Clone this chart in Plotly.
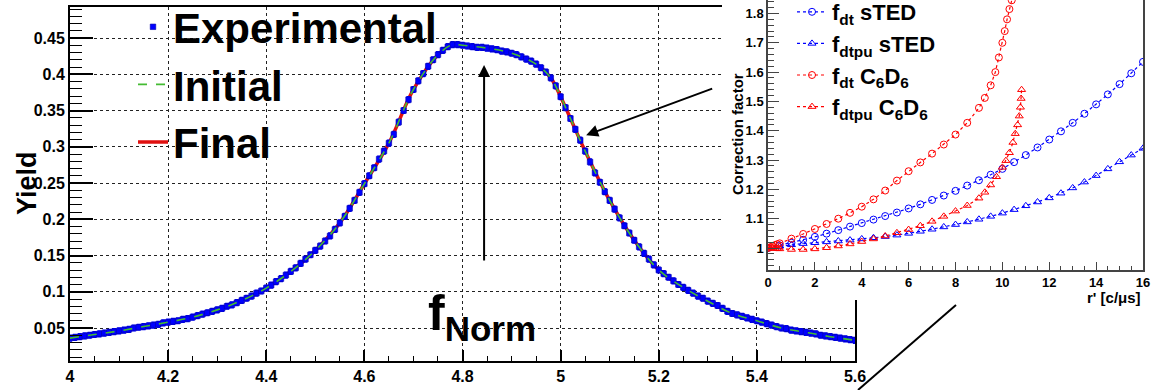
import plotly.graph_objects as go

# ---------------- main plot data ----------------
energy = [4.00, 4.01, 4.02, 4.03, 4.04, 4.05, 4.06, 4.07, 4.08, 4.09,
          4.10, 4.11, 4.12, 4.13, 4.14, 4.15, 4.16, 4.17, 4.18, 4.19,
          4.20, 4.21, 4.22, 4.23, 4.24, 4.25, 4.26, 4.27, 4.28, 4.29,
          4.30, 4.31, 4.32, 4.33, 4.34, 4.35, 4.36, 4.37, 4.38, 4.39,
          4.40, 4.41, 4.42, 4.43, 4.44, 4.45, 4.46, 4.47, 4.48, 4.49,
          4.50, 4.51, 4.52, 4.53, 4.54, 4.55, 4.56, 4.57, 4.58, 4.59,
          4.60, 4.61, 4.62, 4.63, 4.64, 4.65, 4.66, 4.67, 4.68, 4.69,
          4.70, 4.71, 4.72, 4.73, 4.74, 4.75, 4.76, 4.77, 4.78, 4.79,
          4.80, 4.81, 4.82, 4.83, 4.84, 4.85, 4.86, 4.87, 4.88, 4.89,
          4.90, 4.91, 4.92, 4.93, 4.94, 4.95, 4.96, 4.97, 4.98, 4.99,
          5.00, 5.01, 5.02, 5.03, 5.04, 5.05, 5.06, 5.07, 5.08, 5.09,
          5.10, 5.11, 5.12, 5.13, 5.14, 5.15, 5.16, 5.17, 5.18, 5.19,
          5.20, 5.21, 5.22, 5.23, 5.24, 5.25, 5.26, 5.27, 5.28, 5.29,
          5.30, 5.31, 5.32, 5.33, 5.34, 5.35, 5.36, 5.37, 5.38, 5.39,
          5.40, 5.41, 5.42, 5.43, 5.44, 5.45, 5.46, 5.47, 5.48, 5.49,
          5.50, 5.51, 5.52, 5.53, 5.54, 5.55, 5.56, 5.57, 5.58, 5.59,
          5.60]
yield_exp = [0.036, 0.037, 0.038, 0.039, 0.040, 0.041, 0.042, 0.043, 0.044, 0.045,
             0.046, 0.047, 0.048, 0.050, 0.051, 0.052, 0.053, 0.054, 0.055, 0.057,
             0.058, 0.059, 0.060, 0.062, 0.063, 0.065, 0.067, 0.069, 0.071, 0.073,
             0.075, 0.077, 0.080, 0.082, 0.085, 0.088, 0.091, 0.094, 0.098, 0.101,
             0.105, 0.109, 0.114, 0.118, 0.123, 0.128, 0.133, 0.139, 0.145, 0.151,
             0.157, 0.163, 0.170, 0.177, 0.186, 0.195, 0.204, 0.215, 0.226, 0.237,
             0.249, 0.260, 0.271, 0.283, 0.294, 0.305, 0.317, 0.334, 0.350, 0.365,
             0.379, 0.391, 0.401, 0.411, 0.420, 0.427, 0.433, 0.438, 0.441, 0.441,
             0.440, 0.439, 0.438, 0.437, 0.437, 0.436, 0.435, 0.434, 0.432, 0.431,
             0.429, 0.427, 0.424, 0.421, 0.418, 0.414, 0.409, 0.403, 0.395, 0.384,
             0.369, 0.354, 0.339, 0.324, 0.309, 0.294, 0.279, 0.264, 0.251, 0.238,
             0.226, 0.214, 0.202, 0.191, 0.181, 0.171, 0.162, 0.153, 0.145, 0.137,
             0.130, 0.125, 0.120, 0.115, 0.110, 0.106, 0.102, 0.098, 0.094, 0.091,
             0.087, 0.084, 0.081, 0.077, 0.073, 0.070, 0.068, 0.066, 0.064, 0.062,
             0.060, 0.058, 0.056, 0.054, 0.052, 0.050, 0.049, 0.047, 0.046, 0.045,
             0.044, 0.043, 0.042, 0.040, 0.039, 0.038, 0.037, 0.036, 0.035, 0.034,
             0.033]

fit_energy = [4.00, 4.05, 4.10, 4.15, 4.20, 4.25, 4.30, 4.35, 4.40, 4.45, 4.50,
              4.55, 4.60, 4.65, 4.70, 4.75, 4.78, 4.80, 4.85, 4.90, 4.95, 4.98,
              5.00, 5.02, 5.05, 5.10, 5.15, 5.20, 5.25, 5.30, 5.35, 5.40, 5.45,
              5.50, 5.55, 5.60]
yield_initial = [0.036, 0.041, 0.046, 0.052, 0.058, 0.065, 0.075, 0.088, 0.105, 0.128, 0.157,
                 0.195, 0.249, 0.305, 0.379, 0.427, 0.441, 0.440, 0.436, 0.429, 0.414, 0.395,
                 0.369, 0.339, 0.294, 0.226, 0.171, 0.130, 0.106, 0.087, 0.070, 0.060, 0.050,
                 0.044, 0.038, 0.033]
yield_final = [0.036, 0.041, 0.046, 0.052, 0.058, 0.065, 0.075, 0.088, 0.105, 0.128, 0.157,
               0.195, 0.249, 0.305, 0.379, 0.427, 0.441, 0.440, 0.436, 0.429, 0.414, 0.395,
               0.369, 0.339, 0.294, 0.226, 0.171, 0.130, 0.106, 0.087, 0.070, 0.060, 0.050,
               0.044, 0.038, 0.033]

# ---------------- inset data ----------------
r_sted = [0.0, 0.5, 1.0, 1.5, 2.0, 2.5, 3.0, 3.5, 4.0, 4.5, 5.0, 5.5, 6.0, 6.5, 7.0, 7.5,
          8.0, 8.5, 9.0, 9.5, 10.0, 10.5, 11.0, 11.5, 12.0, 12.5, 13.0, 13.5, 14.0,
          14.5, 15.0, 15.5, 16.0]
fdt_sted = [1.000, 1.009, 1.018, 1.028, 1.038, 1.049, 1.061, 1.073, 1.085, 1.097, 1.109,
            1.121, 1.135, 1.149, 1.164, 1.179, 1.195, 1.213, 1.231, 1.250, 1.270, 1.293,
            1.317, 1.343, 1.370, 1.398, 1.427, 1.458, 1.490, 1.524, 1.559, 1.596, 1.635]
fdtpu_sted = [1.000, 1.006, 1.011, 1.015, 1.018, 1.021, 1.024, 1.027, 1.031, 1.035, 1.039,
              1.044, 1.050, 1.057, 1.064, 1.072, 1.080, 1.089, 1.098, 1.108, 1.119, 1.131,
              1.144, 1.157, 1.171, 1.187, 1.205, 1.225, 1.247, 1.270, 1.294, 1.317, 1.340]

r_c6d6_dt = [0.0, 0.1, 0.2, 0.3, 0.4, 0.5, 1.0, 1.5, 2.0, 2.5, 3.0, 3.5, 4.0, 4.5, 5.0,
             5.5, 6.0, 6.5, 7.0, 7.5, 8.0, 8.5, 9.0, 9.25, 9.5, 9.7, 9.85, 10.0, 10.1,
             10.2, 10.3, 10.4]
fdt_c6d6 = [1.000, 1.003, 1.006, 1.010, 1.013, 1.016, 1.032, 1.048, 1.065, 1.082, 1.100,
            1.120, 1.141, 1.166, 1.196, 1.230, 1.262, 1.292, 1.322, 1.353, 1.387, 1.427,
            1.478, 1.512, 1.555, 1.600, 1.650, 1.700, 1.740, 1.780, 1.815, 1.845]

r_c6d6_dtpu = [0.0, 0.1, 0.2, 0.3, 0.4, 0.5, 1.0, 1.5, 2.0, 2.5, 3.0, 3.5, 4.0, 4.5, 5.0,
               5.5, 6.0, 6.5, 7.0, 7.5, 8.0, 8.5, 9.0, 9.25, 9.5, 9.75, 10.0, 10.15,
               10.3, 10.45, 10.55, 10.65, 10.72, 10.77, 10.8, 10.82]
fdtpu_c6d6 = [1.000, 1.000, 0.999, 0.999, 0.998, 0.997, 0.995, 0.995, 0.997, 1.001, 1.007,
              1.014, 1.022, 1.031, 1.041, 1.052, 1.063, 1.076, 1.091, 1.108, 1.126, 1.145,
              1.170, 1.190, 1.215, 1.243, 1.275, 1.298, 1.325, 1.360, 1.390, 1.420, 1.450,
              1.480, 1.510, 1.540]

FONT = "Liberation Sans, Arial, Helvetica, sans-serif"
BLUE = "#0000ff"
RED = "#ff0000"
GREEN = "#44bb33"
W, H = 1154, 390

fig = go.Figure()

# main plot traces
fig.add_trace(go.Scatter(x=fit_energy, y=yield_final, mode="lines", name="Final",
                         line=dict(color="#e01010", width=3.5, shape="spline"),
                         legendrank=3, xaxis="x", yaxis="y"))
fig.add_trace(go.Scatter(x=energy, y=yield_exp, mode="markers", name="Experimental",
                         marker=dict(symbol="square", size=5.5, color=BLUE,
                                     line=dict(width=0.6, color="#0000aa")),
                         error_y=dict(type="constant", value=0.004, thickness=1.4,
                                      width=2, color=BLUE),
                         legendrank=1, xaxis="x", yaxis="y"))
fig.add_trace(go.Scatter(x=fit_energy, y=yield_initial, mode="lines", name="Initial",
                         line=dict(color=GREEN, width=1.6, dash="dash", shape="spline"),
                         legendrank=2, xaxis="x", yaxis="y"))

# white pad for the inset (empty subplot whose background hides the main plot)
fig.add_trace(go.Scatter(x=[], y=[], xaxis="x2", yaxis="y2", showlegend=False,
                         hoverinfo="skip"))

# inset traces
inset_specs = [
    (r_sted, fdt_sted, "f<sub>dt</sub> sTED", BLUE, "circle-open"),
    (r_sted, fdtpu_sted, "f<sub>dtpu</sub> sTED", BLUE, "triangle-up-open"),
    (r_c6d6_dt, fdt_c6d6, "f<sub>dt</sub> C<sub>6</sub>D<sub>6</sub>", RED, "circle-open"),
    (r_c6d6_dtpu, fdtpu_c6d6, "f<sub>dtpu</sub> C<sub>6</sub>D<sub>6</sub>", RED,
     "triangle-up-open"),
]
for xs, ys, nm, col, sym in inset_specs:
    fig.add_trace(go.Scatter(x=xs, y=ys, mode="lines+markers", name=nm,
                             line=dict(color=col, width=1.2, dash="dot"),
                             marker=dict(symbol=sym, size=7, color=col,
                                         line=dict(width=1, color=col)),
                             legend="legend2", xaxis="x3", yaxis="y3"))

tickfont_main = dict(family=FONT, size=16, color="black", weight="bold")
tickfont_inset = dict(family=FONT, size=13, color="black", weight="bold")

fig.update_layout(
    width=W, height=H, autosize=False,
    margin=dict(l=0, r=0, t=0, b=0, autoexpand=False),
    paper_bgcolor="white", plot_bgcolor="white",
    font=dict(family=FONT, color="black"),
    xaxis=dict(domain=[70 / W, 855 / W], range=[4, 5.6], anchor="y",
               dtick=0.2, tick0=4, ticks="inside", ticklen=11, tickwidth=1.5,
               tickcolor="black", minor=dict(dtick=0.05, ticks="inside", ticklen=5.5,
                                             tickwidth=1.2, tickcolor="black",
                                             showgrid=False),
               showline=True, linecolor="black", linewidth=2, mirror=True,
               showgrid=True, gridcolor="#222222", griddash="dot", gridwidth=1,
               zeroline=False, tickfont=tickfont_main),
    yaxis=dict(domain=[(H - 361) / H, (H - 7) / H], range=[0.00448, 0.49276],
               anchor="x", dtick=0.05, tick0=0, ticks="inside", ticklen=23,
               tickwidth=1.5, tickcolor="black",
               minor=dict(dtick=0.01, ticks="inside", ticklen=12, tickwidth=1.2,
                          tickcolor="black", showgrid=False),
               showline=True, linecolor="black", linewidth=2, mirror=True,
               showgrid=True, gridcolor="#222222", griddash="dot", gridwidth=1,
               zeroline=False, tickfont=tickfont_main),
    xaxis2=dict(domain=[722 / W, 1.0], range=[0, 1], anchor="y2", showgrid=False,
                zeroline=False, showticklabels=False, ticks="", showline=False),
    yaxis2=dict(domain=[(H - 300) / H, 1.0], range=[0, 1], anchor="x2", showgrid=False,
                zeroline=False, showticklabels=False, ticks="", showline=False),
    xaxis3=dict(domain=[768 / W, 1143 / W], range=[0, 16], anchor="y3",
                dtick=2, tick0=0, ticks="inside", ticklen=8, tickwidth=1.2,
                tickcolor="#444444",
                minor=dict(dtick=0.5, ticks="inside", ticklen=4, tickwidth=1,
                           tickcolor="#444444"),
                showline=True, linecolor="#444444", linewidth=1.5, mirror=False,
                showgrid=False, zeroline=False, tickfont=tickfont_inset),
    yaxis3=dict(domain=[(H - 270) / H, 1.0], range=[0.925, 1.846], anchor="x3",
                dtick=0.1, tick0=1, ticks="inside", ticklen=11, tickwidth=1.2,
                tickcolor="#444444",
                minor=dict(dtick=0.02, ticks="inside", ticklen=6, tickwidth=1,
                           tickcolor="#444444"),
                showline=True, linecolor="#444444", linewidth=1.5, mirror=True,
                showgrid=False, zeroline=False, tickfont=tickfont_inset),
    legend=dict(x=133 / W, y=1.0 + 7 / H, xanchor="left", yanchor="top",
                bgcolor="rgba(0,0,0,0)", borderwidth=0,
                font=dict(family=FONT, size=42, color="black", weight="bold"),
                traceorder="normal"),
    legend2=dict(x=792 / W, y=1.0 + 9 / H, xanchor="left", yanchor="top",
                 bgcolor="rgba(0,0,0,0)", borderwidth=0,
                 font=dict(family=FONT, size=22, color="black", weight="bold"),
                 traceorder="normal"),
    showlegend=True,
)

# axis titles
fig.add_annotation(x=27 / W, y=(H - 183) / H, xref="paper", yref="paper",
                   xanchor="center", yanchor="middle",
                   text="Yield", textangle=-90, showarrow=False,
                   font=dict(family=FONT, size=27, color="black", weight="bold"))
fig.add_annotation(x=737 / W, y=(H - 134) / H, xref="paper", yref="paper",
                   xanchor="center", yanchor="middle",
                   text="Correction factor", textangle=-90, showarrow=False,
                   font=dict(family=FONT, size=15, color="black", weight="bold"))
fig.add_annotation(x=1143 / W, y=(H - 297) / H, xref="paper", yref="paper",
                   text="r' [c/\u03bcs]", showarrow=False, xanchor="right",
                   yanchor="middle",
                   font=dict(family=FONT, size=15, color="black", weight="bold"))

# f_Norm label and arrows
fig.add_annotation(x=482 / W, y=(H - 316) / H, xref="paper", yref="paper",
                   xanchor="center", yanchor="middle",
                   text="f<sub>Norm</sub>", showarrow=False,
                   font=dict(family=FONT, size=50, color="black", weight="bold"))
fig.add_annotation(x=4.844, y=0.4128, xref="x", yref="y", ax=4.844, ay=0.141,
                   axref="x", ayref="y", text="", showarrow=True, arrowhead=2,
                   arrowsize=1.2, arrowwidth=2, arrowcolor="black")
fig.add_annotation(x=5.052, y=0.316, xref="x", yref="y", ax=5.312, ay=0.381,
                   axref="x", ayref="y", text="", showarrow=True, arrowhead=2,
                   arrowsize=1.2, arrowwidth=2, arrowcolor="black")

# diagonal line below the inset
fig.add_shape(type="line", xref="paper", yref="paper",
              x0=858 / W, y0=0.0, x1=956 / W, y1=(H - 305) / H,
              line=dict(color="black", width=2), layer="above")

fig.write_html(
    "out.html",
    post_script=("document.documentElement.style.overflow='hidden';"
                 "document.body.style.margin='0';"
                 "document.body.style.overflow='hidden';"),
)
